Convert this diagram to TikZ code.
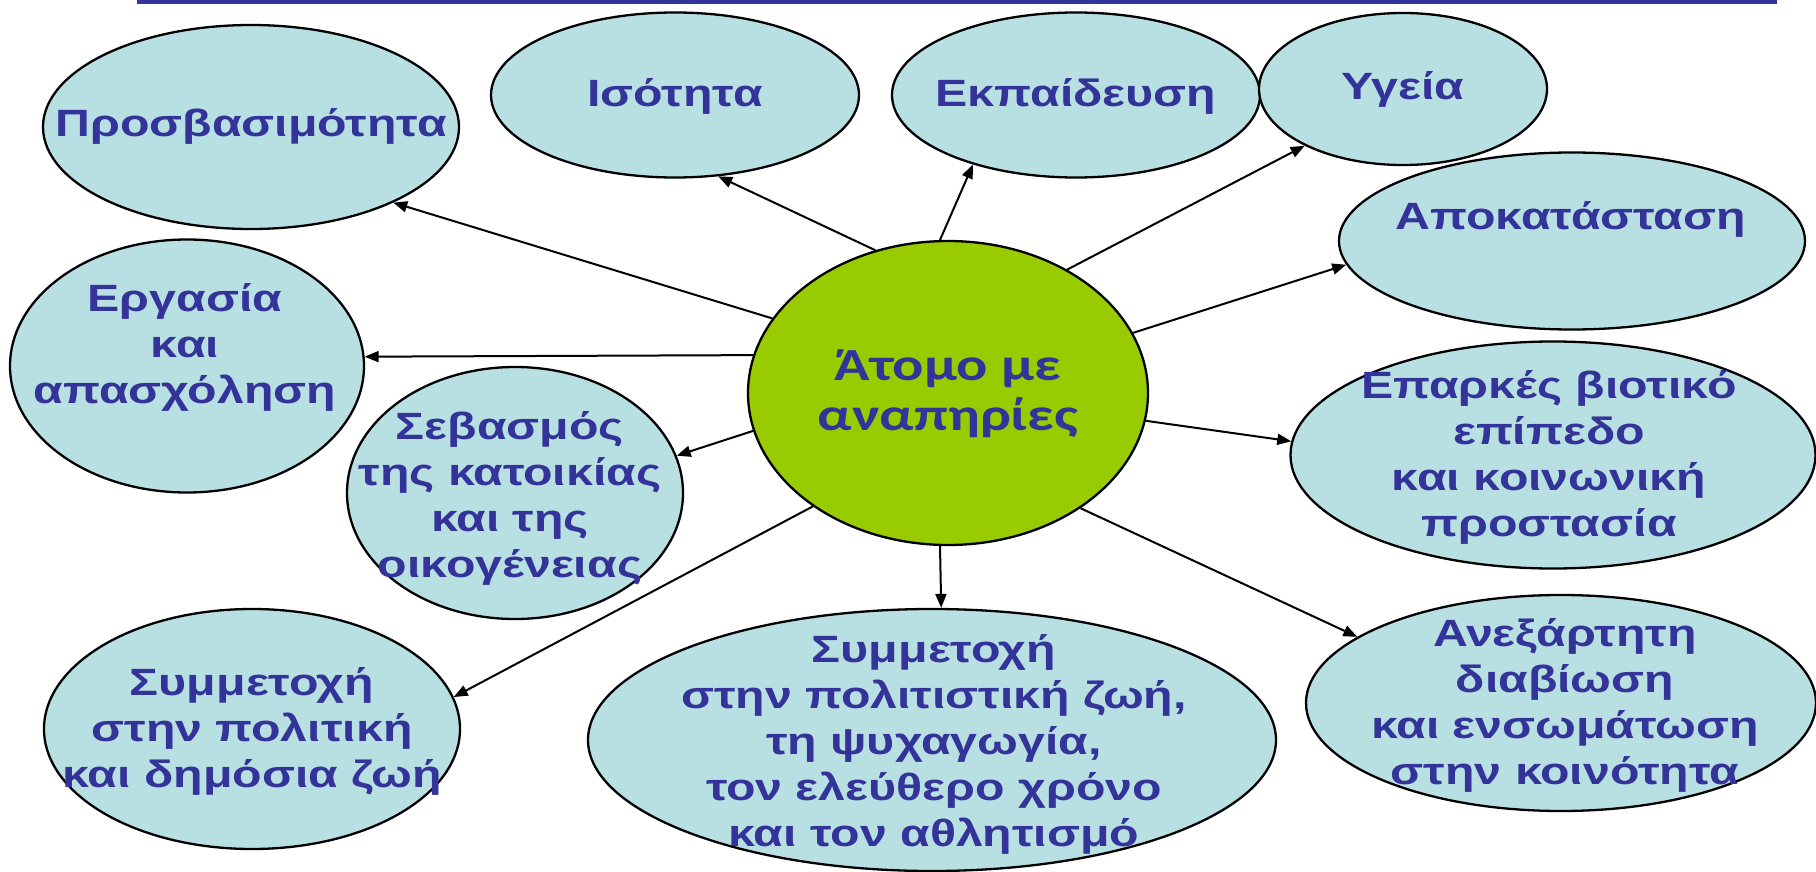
\documentclass[tikz,border=0pt]{standalone}
\usepackage{fontspec}
\usepackage{graphicx}
\usepackage{tikz}
\setmainfont{Liberation Sans}
\newfontfamily\humfont{Carlito}
\usetikzlibrary{arrows.meta,shapes.geometric}
\definecolor{bubblefill}{HTML}{B8E0E3}
\definecolor{centrefill}{HTML}{99CC00}
\definecolor{textblue}{HTML}{333399}
\newcommand{\wtext}[1]{\scalebox{1.27}[1]{\begin{tabular}{@{}c@{}}#1\end{tabular}}}

\begin{document}
\begin{tikzpicture}[x=1pt, y=-1pt,
	bubble/.style={ellipse, draw, line width=2.3pt, fill=bubblefill, inner sep=0pt},
	lbl/.style={text=textblue, inner sep=0pt, font=\fontsize{38}{46}\selectfont\bfseries},
	link/.style={line width=2pt, -{Triangle[length=14pt,width=11pt]}}]
			\useasboundingbox (0,0) rectangle (1816,872);
			\fill[textblue] (137,0) rectangle (1777,4);
			\coordinate (C) at (948,393);
			\node[bubble, fill=centrefill, minimum width=400pt, minimum height=304pt] (atomo) at (C) {};
			\node[bubble, minimum width=416pt, minimum height=204pt] (prosv) at (251,127) {};
			\node[bubble, minimum width=368pt, minimum height=165pt] (isot) at (675,95) {};
			\node[bubble, minimum width=368pt, minimum height=165pt] (ekp) at (1076,95) {};
			\node[bubble, minimum width=288pt, minimum height=152pt] (ygeia) at (1403,89) {};
			\node[bubble, minimum width=466pt, minimum height=177pt] (apok) at (1572,241) {};
			\node[bubble, minimum width=354pt, minimum height=253pt] (ergas) at (187,366) {};
			\node[bubble, minimum width=336pt, minimum height=252pt] (sevas) at (515,493) {};
			\node[bubble, minimum width=525pt, minimum height=227pt] (eparkes) at (1553,455) {};
			\node[bubble, minimum width=416pt, minimum height=240pt] (politiki) at (252,729) {};
			\node[bubble, minimum width=688pt, minimum height=262pt] (politismos) at (932,740) {};
			\node[bubble, minimum width=510pt, minimum height=216pt] (anex) at (1561,703) {};
			\draw[link] (atomo.157.7) -- (prosv.-28.1);
			\draw[link] (atomo.117.5) -- (isot.-62.6);
			\draw[link] (atomo.93) -- (ekp.-146.1);
			\draw[link] (atomo.46.6) -- (ygeia.-150.5);
			\draw[link] (atomo.18.9) -- (apok.186.4);
			\draw[link] (atomo.169.3) -- (ergas.3.5);
			\draw[link] (atomo.191.9) -- (sevas.13.8);
			\draw[link] (atomo.220) -- (politiki.9);
			\draw[link] (atomo.267) -- (politismos.86.6);
			\draw[link] (atomo.319.8) -- (anex.162.5);
			\draw[link] (atomo.352.8) -- (eparkes.177);
			\node[lbl, font=\humfont\fontsize{46}{50}\selectfont\bfseries] (atomo-t) at (948,395) {\wtext{Άτομο με\\αναπηρίες}};
			\node[lbl] (prosv-t) at (251,127) {\wtext{Προσβασιμότητα}};
			\node[lbl] (isot-t) at (675,97) {\wtext{Ισότητα}};
			\node[lbl] (ekp-t) at (1076,97) {\wtext{Εκπαίδευση}};
			\node[lbl] (ygeia-t) at (1403,90) {\wtext{Υγεία}};
			\node[lbl] (apok-t) at (1571,220) {\wtext{Αποκατάσταση}};
			\node[lbl] (ergas-t) at (185,348) {\wtext{Εργασία\\και\\απασχόληση}};
			\node[lbl] (sevas-t) at (510,499) {\wtext{Σεβασμός\\της κατοικίας\\και της\\οικογένειας}};
			\node[lbl] (eparkes-t) at (1549,458) {\wtext{Επαρκές βιοτικό\\επίπεδο\\και κοινωνική\\προστασία}};
			\node[lbl] (politiki-t) at (252,732) {\wtext{Συμμετοχή\\στην πολιτική\\και δημόσια ζωή}};
			\node[lbl] (politismos-t) at (934,745) {\wtext{Συμμετοχή\\στην πολιτιστική ζωή,\\τη ψυχαγωγία,\\τον ελεύθερο χρόνο\\και τον αθλητισμό}};
			\node[lbl] (anex-t) at (1565,706) {\wtext{Ανεξάρτητη\\διαβίωση\\και ενσωμάτωση\\στην κοινότητα}};
\end{tikzpicture}
\end{document}
